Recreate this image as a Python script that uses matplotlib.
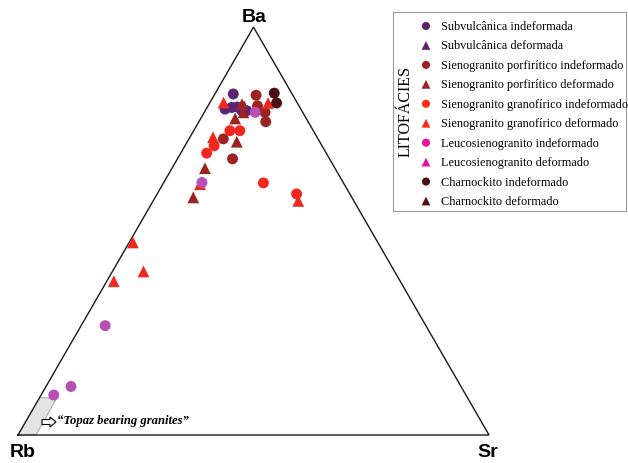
import numpy as np
import matplotlib
matplotlib.use("Agg")
import matplotlib.pyplot as plt
from matplotlib.patches import Polygon, FancyArrow

# ---- data: ternary proportions (Rb, Ba, Sr) per lithofacies ----
groups = [
    "Subvulcânica indeformada",
    "Subvulcânica deformada",
    "Sienogranito porfirítico indeformado",
    "Sienogranito porfirítico deformado",
    "Sienogranito granofírico indeformado",
    "Sienogranito granofírico deformado",
    "Leucosienogranito indeformado",
    "Leucosienogranito deformado",
    "Charnockito indeformado",
    "Charnockito deformado",
]
markers = ["o", "^", "o", "^", "o", "^", "o", "^", "o", "^"]
point_colors = ["#5b2474", "#5b2474", "#9c2324", "#9c2324", "#f0281f",
                "#f0281f", "#b84fb5", "#e0189a", "#4a1012", "#4a1012"]
legend_colors = ["#5b1f6b", "#5b1f6b", "#a01f22", "#a01f22", "#ff2a1a",
                 "#ff2a1a", "#e6139a", "#e6139a", "#4a1012", "#5a1010"]

rb_subv_ind = [0.125, 0.161, 0.145, 0.127, 0.117, 0.133]
ba_subv_ind = [0.836, 0.799, 0.803, 0.795, 0.795, 0.804]
sr_subv_ind = [0.039, 0.040, 0.052, 0.078, 0.088, 0.063]

rb_subv_def = [0.117]
ba_subv_def = [0.806]
sr_subv_def = [0.077]

rb_porf_ind = [0.078, 0.088, 0.080, 0.090, 0.201, 0.206]
ba_porf_ind = [0.833, 0.807, 0.791, 0.768, 0.726, 0.677]
sr_porf_ind = [0.089, 0.105, 0.129, 0.142, 0.073, 0.117]

rb_porf_def = [0.119, 0.126, 0.151, 0.176, 0.276, 0.337]
ba_porf_def = [0.811, 0.791, 0.776, 0.719, 0.654, 0.583]
sr_porf_def = [0.070, 0.083, 0.073, 0.105, 0.070, 0.081]

rb_gran_ind = [0.177, 0.156, 0.229, 0.254, 0.170, 0.113]
ba_gran_ind = [0.746, 0.746, 0.709, 0.691, 0.618, 0.591]
sr_gran_ind = [0.077, 0.098, 0.062, 0.055, 0.212, 0.296]

rb_gran_def = [0.156, 0.062, 0.221, 0.306, 0.118, 0.520, 0.533, 0.608]
ba_gran_def = [0.815, 0.814, 0.730, 0.615, 0.574, 0.472, 0.401, 0.377]
sr_gran_def = [0.029, 0.124, 0.049, 0.079, 0.308, 0.008, 0.066, 0.015]

rb_leuco_ind = [0.101, 0.300, 0.681, 0.828, 0.875]
ba_leuco_ind = [0.791, 0.619, 0.268, 0.119, 0.098]
sr_leuco_ind = [0.108, 0.081, 0.051, 0.053, 0.027]

rb_leuco_def, ba_leuco_def, sr_leuco_def = [], [], []

rb_charn_ind = [0.037, 0.044]
ba_charn_ind = [0.838, 0.814]
sr_charn_ind = [0.125, 0.142]

rb_charn_def, ba_charn_def, sr_charn_def = [], [], []

series = [
    (rb_subv_ind, ba_subv_ind, sr_subv_ind),
    (rb_subv_def, ba_subv_def, sr_subv_def),
    (rb_porf_ind, ba_porf_ind, sr_porf_ind),
    (rb_porf_def, ba_porf_def, sr_porf_def),
    (rb_gran_ind, ba_gran_ind, sr_gran_ind),
    (rb_gran_def, ba_gran_def, sr_gran_def),
    (rb_leuco_ind, ba_leuco_ind, sr_leuco_ind),
    (rb_leuco_def, ba_leuco_def, sr_leuco_def),
    (rb_charn_ind, ba_charn_ind, sr_charn_ind),
    (rb_charn_def, ba_charn_def, sr_charn_def),
]

# "Topaz bearing granites" field (Rb, Ba, Sr)
topaz_rb = [1.0, 0.909, 0.872, 0.962]
topaz_ba = [0.0, 0.091, 0.091, 0.0]
topaz_sr = [0.0, 0.0, 0.037, 0.038]

H = np.sqrt(3) / 2


def tern(rb, ba, sr):
    rb, ba, sr = (np.asarray(v, float) for v in (rb, ba, sr))
    tot = rb + ba + sr
    ba, sr = ba / tot, sr / tot
    return sr + ba / 2, ba * H


W, HGT = 628, 464
fig = plt.figure(figsize=(W / 100, HGT / 100), dpi=100)
ax = fig.add_axes([0, 0, 1, 1])
S = 471.0  # triangle side in pixels
x0, y0 = 18.0, 436.0  # Rb corner in pixels (from top)
ax.set_xlim(-x0 / S, (W - x0) / S)
ax.set_ylim(-(HGT - y0) / S, y0 / S)
ax.axis("off")


def px(x, y):
    return (x - x0) / S, (y0 - y) / S


# topaz field
tx, ty = tern(topaz_rb, topaz_ba, topaz_sr)
ax.add_patch(Polygon(np.column_stack([tx, ty]), closed=True,
                     facecolor="#e4e4e4", edgecolor="#9a9a9a", lw=0.6, zorder=1))

# triangle frame
ax.plot([0, 1, 0.5, 0], [0, 0, H, 0], color="#1a1a1a", lw=1.0, zorder=2,
        solid_joinstyle="miter")

# data points
for (rb, ba, sr), m, c in zip(series, markers, point_colors):
    if len(rb) == 0:
        continue
    x, y = tern(rb, ba, sr)
    ax.scatter(x, y, marker=m, s=62 if m == "o" else 72, color=c,
               edgecolors="none", zorder=3)

# corner labels
lab_kw = dict(fontsize=14, fontweight="bold", family="Liberation Sans",
              ha="center", va="center", fontstretch="expanded")
ax.text(*px(254, 18), "Ba", **lab_kw)
ax.text(*px(23, 453), "Rb", **lab_kw)
ax.text(*px(488, 453), "Sr", **lab_kw)

# topaz annotation
ax1, ay1 = px(42, 423)
ax2, _ = px(56, 423)
ax.add_patch(FancyArrow(ax1, ay1, ax2 - ax1, 0, width=5 / S, head_width=10 / S,
                        head_length=6 / S, length_includes_head=True,
                        facecolor="white", edgecolor="black", lw=0.8, zorder=4))
ax.text(*px(57, 421), "\u201cTopaz bearing granites\u201d", family="Liberation Serif",
        fontweight="bold", style="italic", fontsize=9.1, ha="left", va="center")

# legend box
lx0, ly0, lx1, ly1 = 393, 13, 626, 212
lax = fig.add_axes([lx0 / W, 1 - ly1 / HGT, (lx1 - lx0) / W, (ly1 - ly0) / HGT])
lax.set_xlim(lx0, lx1)
lax.set_ylim(ly1, ly0)
lax.set_xticks([])
lax.set_yticks([])
for sp in lax.spines.values():
    sp.set_color("#9a9a9a")
    sp.set_linewidth(0.8)

rows = np.linspace(27, 202, len(groups))
for name, m, c, yy in zip(groups, markers, legend_colors, rows):
    lax.scatter([426], [yy], marker=m, s=34 if m == "o" else 40, color=c,
                edgecolors="none")
    lax.text(441, yy, name, family="Liberation Serif", fontsize=8.85,
             ha="left", va="center")
lax.text(406, 112, "LITOFÁCIES", family="Liberation Serif", fontsize=11.5,
         rotation=90, ha="center", va="center")

fig.savefig("out.png", dpi=100)
